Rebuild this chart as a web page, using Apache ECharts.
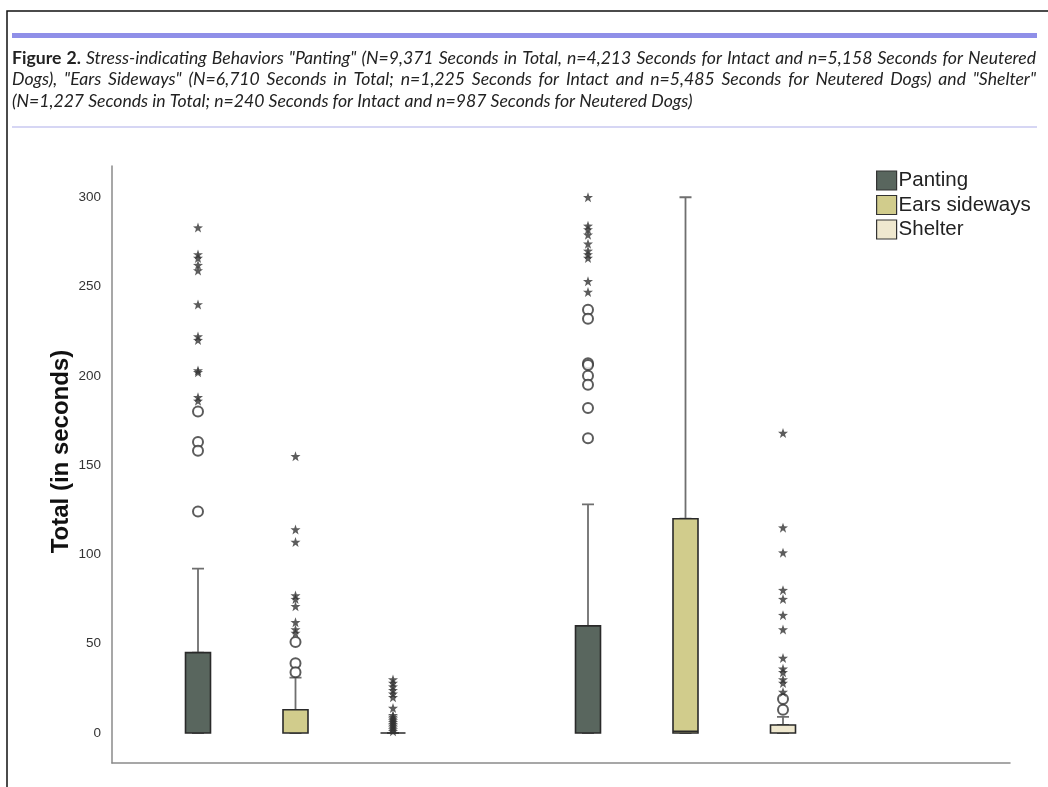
<!DOCTYPE html>
<html><head><meta charset="utf-8">
<script src="https://cdn.jsdelivr.net/npm/echarts@6/dist/echarts.min.js"></script>
<style>html,body{margin:0;padding:0;background:#fff}#c{width:1048px;height:787px}</style>
</head><body><div id="c"></div>
<script>
// ---------- data ----------
const groups = ['Intact', 'Neutered'];
const behaviors = ['Panting', 'Ears sideways', 'Shelter'];
const yTickValues = [0, 50, 100, 150, 200, 250, 300];
// box stats per group: [min, Q1, median, Q3, max]
const pantingBox = [[0, 0, 0, 45, 92], [0, 0, 0, 60, 128]];
const earsBox = [[0, 0, 0, 13, 31], [0, 0, 1, 120, 300]];
const shelterBox = [[0, 0, 0, 0, 0], [0, 0, 0, 4.5, 9]];
// outliers (circles) and extremes (stars) per group
const pantingCircles = [[180, 163, 158, 124], [237, 232, 207, 206, 200, 195, 182, 165]];
const pantingStars = [[283, 268, 266, 262, 259, 240, 222, 220, 203, 202, 188, 186], [300, 284, 282, 279, 274, 270, 268, 266, 253, 247]];
const earsCircles = [[51, 39, 34], []];
const earsStars = [[155, 114, 107, 77, 75, 71, 62, 58, 56], []];
const shelterCircles = [[], [19, 13]];
const shelterStars = [[30, 28, 26, 24, 22, 20, 14, 10, 9, 8, 7, 6, 5, 4, 3, 2, 1], [168, 115, 101, 80, 75, 66, 58, 42, 36, 34, 30, 28, 23]];
const captionLines = [
  'Figure 2. Stress-indicating Behaviors "Panting" (N=9,371 Seconds in Total, n=4,213 Seconds for Intact and n=5,158 Seconds for Neutered',
  'Dogs), "Ears Sideways" (N=6,710 Seconds in Total; n=1,225 Seconds for Intact and n=5,485 Seconds for Neutered Dogs) and "Shelter"',
  '(N=1,227 Seconds in Total; n=240 Seconds for Intact and n=987 Seconds for Neutered Dogs)'
];
const yAxisTitle = 'Total (in seconds)';

// ---------- styles ----------
const fills = ['#59665e', '#d1cc8c', '#efe8cf'];
const boxes = [pantingBox, earsBox, shelterBox];
const circlesAll = [pantingCircles, earsCircles, shelterCircles];
const starsAll = [pantingStars, earsStars, shelterStars];
const perGroup = behaviors.length + 1;
const slotCount = groups.length * perGroup - 1;
const slotOf = (g, b) => g * perGroup + b;
const slotNames = [];
for (let s = 0; s < slotCount; s++) {
  const g = Math.floor(s / perGroup), b = s % perGroup;
  slotNames.push(b < behaviors.length ? groups[g] + ' ' + behaviors[b] : ' ');
}
const yMin = -16.8, yMax = 317.5;
const plotRect = { left: 149.25, width: 682.5, top: 166, bottom: 24 };
const starPath = 'path://M0,-10L2.35,-3.24L9.51,-3.09L3.8,1.24L5.88,8.09L0,4L-5.88,8.09L-3.8,1.24L-9.51,-3.09L-2.35,-3.24Z';

// ---------- caption (justified via rich text) ----------
const ctx = document.createElement('canvas').getContext('2d');
const capFamily = 'Lato';
function measure(t, font) { ctx.font = font; return ctx.measureText(t).width; }
const capTarget = 1024;
const sizeA = 14 * 688 / measure(captionLines[2], 'italic normal 14px ' + capFamily);
const sizeB = 14 * capTarget / (measure(captionLines[0], 'italic normal 14px ' + capFamily) * 1.02);
const capSize = Math.min(sizeA, sizeB);
const fI = 'italic normal ' + capSize + 'px ' + capFamily;
const fB = 'normal bold ' + capSize + 'px ' + capFamily;
const capTops = [48, 69.5, 91];
const titles = captionLines.map((line, k) => {
  const words = line.split(' ');
  const st = words.map((w, i) => (k === 0 && i < 2) ? 'b' : 'i');
  let sum = 0;
  words.forEach((w, i) => { sum += measure(w, st[i] === 'b' ? fB : fI); });
  const gap = k < 2 ? (capTarget - sum) / (words.length - 1) : measure(' ', fI);
  const rich = {
    b: { fontFamily: capFamily, fontStyle: 'normal', fontWeight: 'bold', fontSize: capSize, color: '#222', lineHeight: 20 },
    i: { fontFamily: capFamily, fontStyle: 'italic', fontWeight: 'normal', fontSize: capSize, color: '#222', lineHeight: 20 },
    s: { width: gap, fontFamily: capFamily, fontWeight: 'normal', fontSize: capSize, lineHeight: 20 }
  };
  const text = words.map((w, i) => '{' + st[i] + '|' + w + '}').join('{s| }');
  return { text, left: 12, top: capTops[k], padding: 0,
    textStyle: { fontWeight: 'normal', fontSize: capSize, fontFamily: capFamily, rich } };
});

// ---------- axes ----------
// grids 0-2: boxes per behaviour, grid 3: upper whiskers, grid 4: lower whiskers, grid 5: frame line
const nBoxGrids = 5;
const grid = [];
for (let i = 0; i < nBoxGrids; i++) grid.push(Object.assign({}, plotRect));
grid.push({ left: 112, right: 38, top: 166, bottom: 24 });
const xAxis = [], yAxis = [];
for (let i = 0; i < nBoxGrids; i++) {
  xAxis.push({
    type: 'category', gridIndex: i, data: slotNames, boundaryGap: true,
    axisLine: { show: false }, axisTick: { show: false }, axisLabel: { show: false }, splitLine: { show: false }
  });
  yAxis.push({
    type: 'value', gridIndex: i, min: yMin, max: yMax, show: i === 0,
    offset: 37.25,
    axisLine: { show: true, lineStyle: { color: '#8a8a8a', width: 1.5 } },
    axisTick: { show: false },
    splitLine: { show: false },
    axisLabel: { customValues: yTickValues, color: '#333', fontSize: 13.5, margin: 11, fontFamily: 'Liberation Sans' },
    name: yAxisTitle, nameLocation: 'middle', nameGap: 39, nameMoveOverlap: false,
    nameTextStyle: { fontSize: 24, fontWeight: 'bold', color: '#111', fontFamily: 'Liberation Sans', padding: [0, 0, 0, 26] }
  });
}
xAxis.push({ type: 'value', gridIndex: nBoxGrids, min: 0, max: 1, axisLine: { show: true, onZero: false, lineStyle: { color: '#8a8a8a', width: 1.5 } },
  axisTick: { show: false }, axisLabel: { show: false }, splitLine: { show: false } });
yAxis.push({ type: 'value', gridIndex: nBoxGrids, show: false, min: 0, max: 1 });

// ---------- series ----------
const series = [];
const upper = [], lower = [];
for (let s = 0; s < slotCount; s++) { upper.push(['-', '-', '-', '-', '-']); lower.push(['-', '-', '-', '-', '-']); }
behaviors.forEach((name, b) => {
  const data = [];
  for (let s = 0; s < slotCount; s++) data.push(['-', '-', '-', '-', '-']);
  groups.forEach((g, gi) => {
    const [mn, q1, md, q3, mx] = boxes[b][gi];
    data[slotOf(gi, b)] = [q1, q1, md, q3, q3];          // box only
    upper[slotOf(gi, b)] = [q3, mx, mx, mx, mx];          // whisker Q3 -> max with short cap
    lower[slotOf(gi, b)] = [mn, mn, mn, mn, q1];          // whisker min -> Q1 with short cap
  });
  series.push({
    type: 'boxplot', name, xAxisIndex: b, yAxisIndex: b, boxWidth: [25, 25], data,
    itemStyle: { color: fills[b], borderColor: '#2a2a2a', borderWidth: 1.6 },
    emphasis: { disabled: true }, z: 3
  });
});
[upper, lower].forEach((data, k) => {
  series.push({
    type: 'boxplot', name: k ? 'lower whisker' : 'upper whisker', xAxisIndex: 3 + k, yAxisIndex: 3 + k, boxWidth: [12, 12], data,
    itemStyle: { color: 'none', borderColor: '#6f6f6f', borderWidth: 1.8 },
    emphasis: { disabled: true }, z: 2
  });
});
const circleData = [], starData = [];
behaviors.forEach((name, b) => {
  groups.forEach((g, gi) => {
    circlesAll[b][gi].forEach(v => circleData.push([slotOf(gi, b), v]));
    starsAll[b][gi].forEach(v => starData.push([slotOf(gi, b), v]));
  });
});
series.push({ type: 'scatter', name: 'outliers', xAxisIndex: 0, yAxisIndex: 0, data: circleData,
  symbol: 'emptyCircle', symbolSize: 10, itemStyle: { color: '#333', borderWidth: 1.5 }, z: 4, emphasis: { disabled: true } });
series.push({ type: 'scatter', name: 'extremes', xAxisIndex: 0, yAxisIndex: 0, data: starData,
  symbol: starPath, symbolSize: 10, itemStyle: { color: '#333' }, z: 4, emphasis: { disabled: true } });

const chart = echarts.init(document.getElementById('c'), null, { renderer: 'canvas' });
chart.setOption({
  backgroundColor: '#fff',
  animation: false,
  title: titles,
  grid, xAxis, yAxis, series,
  legend: {
    data: behaviors.map((name, b) => ({ name, itemStyle: { color: fills[b], borderColor: '#333', borderWidth: 1.2 } })),
    orient: 'vertical', left: 871, top: 165, itemWidth: 20, itemHeight: 19, itemGap: 3.5,
    icon: 'rect', selectedMode: false,
    textStyle: { fontSize: 20.5, lineHeight: 19, color: '#222', fontFamily: 'Liberation Sans', padding: [0, 0, 0, -3] }
  },
  graphic: [
    { type: 'polyline', shape: { points: [[7, 787], [7, 11], [1048, 11]] }, style: { stroke: '#111', lineWidth: 1.5, fill: null }, silent: true },
    { type: 'rect', shape: { x: 12, y: 33, width: 1025, height: 5 }, style: { fill: '#8f8fe8' }, silent: true },
    { type: 'line', shape: { x1: 12, y1: 127, x2: 1037, y2: 127 }, style: { stroke: '#c8c8f0', lineWidth: 1.5 }, silent: true }
  ]
});
</script></body></html>
